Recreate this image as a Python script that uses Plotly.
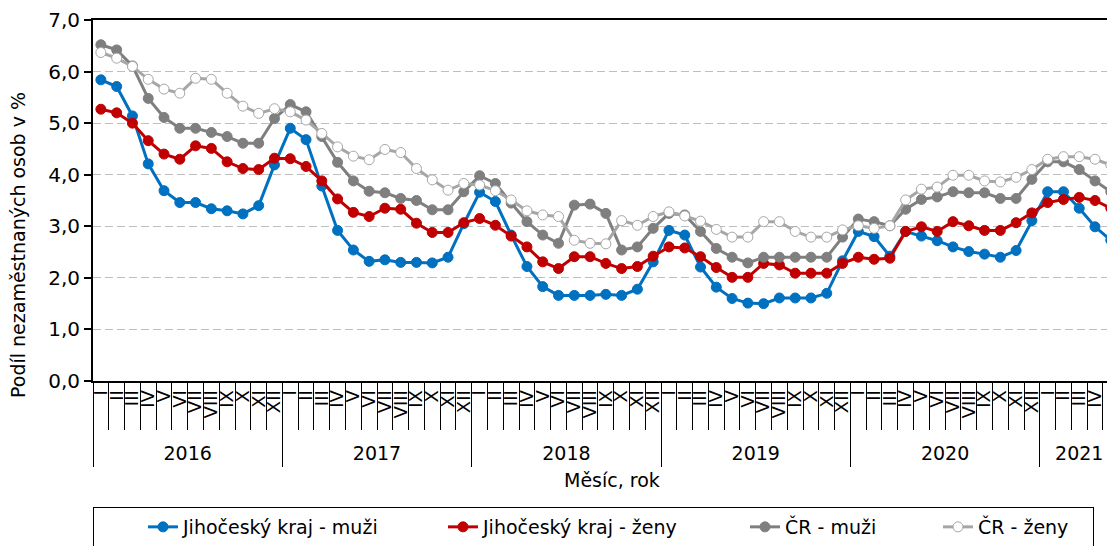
import plotly.graph_objects as go

roman = ["I", "II", "III", "IV", "V", "VI", "VII", "VIII", "IX", "X", "XI", "XII"]
years = ["2016", "2017", "2018", "2019", "2020", "2021"]

# podil nezamestnanych osob v %, leden 2016 - kveten 2021
jc_muzi = [5.84, 5.71, 5.14, 4.21, 3.69, 3.46, 3.46, 3.34, 3.30, 3.24, 3.40, 4.19,
           4.90, 4.68, 3.78, 2.92, 2.54, 2.32, 2.35, 2.30, 2.30, 2.29, 2.40, 3.05,
           3.66, 3.48, 2.83, 2.22, 1.83, 1.66, 1.66, 1.66, 1.68, 1.66, 1.78, 2.31,
           2.92, 2.83, 2.21, 1.82, 1.60, 1.51, 1.50, 1.61, 1.61, 1.61, 1.70, 2.33,
           2.90, 2.80, 2.42, 2.90, 2.81, 2.72, 2.60, 2.51, 2.46, 2.40, 2.53, 3.11,
           3.67, 3.67, 3.35, 2.99, 2.73]
jc_zeny = [5.27, 5.20, 5.00, 4.66, 4.40, 4.30, 4.56, 4.51, 4.25, 4.12, 4.10, 4.32,
           4.31, 4.16, 3.88, 3.53, 3.27, 3.19, 3.35, 3.33, 3.06, 2.88, 2.88, 3.07,
           3.15, 3.02, 2.81, 2.60, 2.31, 2.18, 2.41, 2.41, 2.28, 2.18, 2.22, 2.42,
           2.60, 2.58, 2.41, 2.20, 2.01, 2.01, 2.28, 2.25, 2.09, 2.09, 2.09, 2.28,
           2.40, 2.36, 2.38, 2.90, 2.99, 2.90, 3.09, 3.01, 2.92, 2.92, 3.07, 3.26,
           3.46, 3.52, 3.56, 3.50, 3.35]
cr_muzi = [6.52, 6.42, 6.11, 5.48, 5.11, 4.90, 4.90, 4.82, 4.74, 4.61, 4.61, 5.09,
           5.36, 5.22, 4.74, 4.24, 3.88, 3.68, 3.65, 3.54, 3.50, 3.32, 3.32, 3.67,
           3.98, 3.83, 3.45, 3.09, 2.83, 2.67, 3.41, 3.43, 3.25, 2.54, 2.60, 2.96,
           3.25, 3.22, 2.90, 2.57, 2.40, 2.29, 2.40, 2.40, 2.40, 2.40, 2.40, 2.79,
           3.14, 3.09, 3.01, 3.33, 3.52, 3.57, 3.67, 3.65, 3.65, 3.54, 3.54, 3.91,
           4.25, 4.25, 4.10, 3.88, 3.67]
cr_zeny = [6.37, 6.26, 6.10, 5.85, 5.66, 5.58, 5.87, 5.85, 5.58, 5.33, 5.19, 5.28,
           5.22, 5.06, 4.80, 4.54, 4.36, 4.29, 4.49, 4.43, 4.12, 3.90, 3.70, 3.83,
           3.80, 3.69, 3.51, 3.30, 3.22, 3.19, 2.73, 2.67, 2.66, 3.11, 3.02, 3.19,
           3.28, 3.20, 3.10, 2.94, 2.79, 2.79, 3.09, 3.09, 2.90, 2.79, 2.79, 2.93,
           3.01, 2.96, 3.01, 3.51, 3.72, 3.76, 3.99, 3.99, 3.88, 3.86, 3.95, 4.10,
           4.30, 4.35, 4.35, 4.30, 4.19]

n = len(jc_muzi)
months = list(range(n))
month_text = [roman[i % 12] for i in months]
year_pos = [(12 * k + min(12 * k + 11, n - 1)) / 2 for k in range(len(years))]

series = [
    ("Jihočeský kraj - muži", jc_muzi, "#0070C0", "#0070C0", 206),
    ("Jihočeský kraj - ženy", jc_zeny, "#C00000", "#C00000", 208),
    ("ČR - muži", cr_muzi, "#7F7F7F", "#7F7F7F", 99),
    ("ČR - ženy", cr_zeny, "#A6A6A6", "white", 110),
]

fig = go.Figure()
for name, vals, col, fill, lw in series:
    fig.add_trace(go.Scatter(x=months, y=vals, name=name, mode="lines+markers",
                             line=dict(color=col, width=3),
                             marker=dict(size=10, color=fill, line=dict(color=col, width=1)),
                             legendwidth=lw))

# empty trace so the year axis gets drawn
fig.add_trace(go.Scatter(x=[None], y=[None], xaxis="x2", showlegend=False, hoverinfo="skip"))

xr = [-0.5, 63.76]
fig.update_layout(
    width=1107, height=546,
    margin=dict(l=93, r=0, t=20, b=79, autoexpand=False),
    paper_bgcolor="white", plot_bgcolor="white",
    font=dict(family="DejaVu Sans", size=19, color="black"),
    separators=", ",
    xaxis=dict(range=xr, tickmode="array", tickvals=months, ticktext=month_text,
               tickangle=-90, ticks="", tickfont=dict(size=18, color="black"),
               showline=True, linecolor="black", linewidth=2, mirror=True,
               showgrid=False, zeroline=False, automargin=False,
               minor=dict(ticks="outside", tickmode="linear", tick0=-0.5, dtick=1,
                          ticklen=47, tickwidth=1.3, tickcolor="black", showgrid=False)),
    xaxis2=dict(range=xr, overlaying="x", anchor="free", position=0, side="bottom",
                tickmode="array", tickvals=year_pos, ticktext=years, ticks="",
                ticklabelposition="inside", tickfont=dict(size=19, color="black"),
                showline=False, showgrid=False, zeroline=False, automargin=False,
                minor=dict(ticks="inside", tickmode="linear", tick0=-0.5, dtick=12,
                           ticklen=86, tickwidth=1.3, tickcolor="black", showgrid=False)),
    yaxis=dict(domain=[0.1924, 1], range=[0, 7], tickmode="linear", tick0=0, dtick=1,
               tickformat=".1f", ticks="outside", ticklen=7, tickwidth=1.5, tickcolor="black",
               tickfont=dict(size=20, color="black"), showline=True, linecolor="black",
               linewidth=2, gridcolor="#BFBFBF", griddash="8px,4px", gridwidth=1.2,
               zeroline=False, automargin=False),
    legend=dict(orientation="h", x=0, xanchor="left", y=-0.0895, yanchor="top",
                bordercolor="black", borderwidth=1, indentation=49,
                font=dict(size=19, color="black"), bgcolor="white"),
    annotations=[
        dict(text="Podíl nezaměstnaných osob v %", xref="paper", yref="paper",
             x=-0.074, y=0.4966, textangle=-90, showarrow=False,
             xanchor="center", yanchor="middle", font=dict(size=19, color="black")),
        dict(text="Měsíc, rok", xref="paper", yref="paper", x=0.5118, y=-0.029,
             showarrow=False, xanchor="center", yanchor="middle",
             font=dict(size=19, color="black")),
    ],
)

# figure fills the whole window: no page margin, no scrollbars
fig.write_html("out.html", config={"displayModeBar": False},
               post_script="document.body.style.margin='0';document.body.style.overflow='hidden';")
